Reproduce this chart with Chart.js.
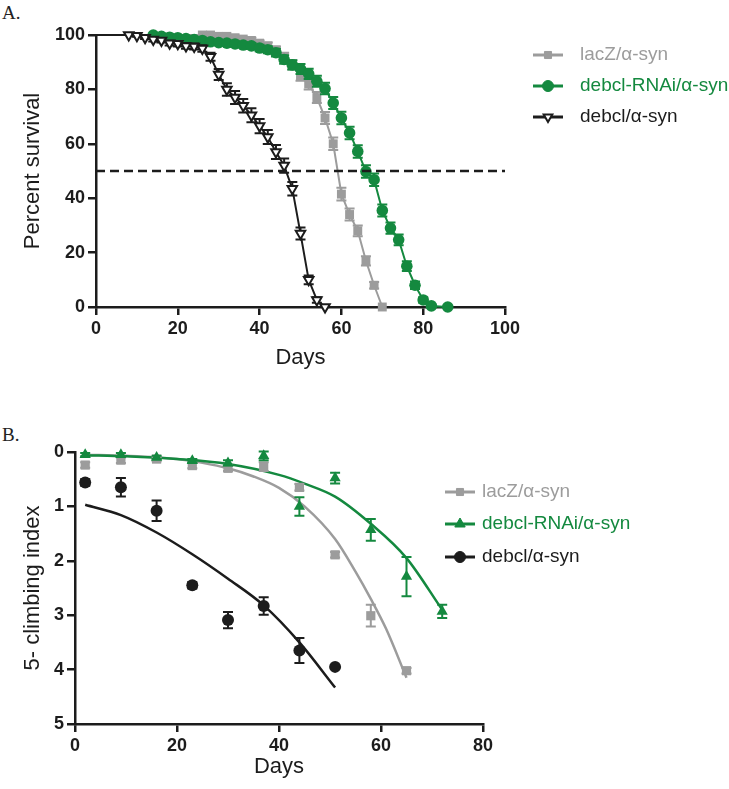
<!DOCTYPE html>
<html>
<head>
<meta charset="utf-8">
<script src="https://cdn.jsdelivr.net/npm/chart.js@4.4.1/dist/chart.umd.min.js"></script>
<style>
  html, body { margin: 0; padding: 0; background: #fff; }
  #page { position: relative; width: 729px; height: 789px; overflow: hidden; }
  .panel { position: absolute; left: 0; width: 729px; }
  .tag { position: absolute; left: 2px; font: 19px 'Liberation Serif', 'Times New Roman', serif; color: #222; }
</style>
</head>
<body>
<div id="page">
  <div class="tag" style="top:2px">A.</div>
  <div class="panel" style="top:0;height:380px"><canvas id="chartA" width="729" height="380"></canvas></div>
  <div class="tag" style="top:424px">B.</div>
  <div class="panel" style="top:400px;height:389px"><canvas id="chartB" width="729" height="389"></canvas></div>
</div>
<script>
// ---- panel A: survival curves (percent alive vs days) ----
const lacZDays = [0, 26, 28, 30, 32, 34, 36, 38, 40, 42, 44, 46, 48, 50, 52, 54, 56, 58, 60, 62, 64, 66, 68, 70];
const lacZSurv = [100, 100, 100, 99.5, 99.5, 99, 98.5, 98, 97, 96, 94.5, 92, 89, 85, 82, 77, 69.5, 60, 41.5, 34, 28, 17, 8, 0];
const lacZErr  = [0, 0, 0, 0.5, 0.5, 0.7, 0.8, 1, 1, 1.2, 1.3, 1.5, 1.7, 1.8, 2, 2, 2.2, 2.3, 2.3, 2.2, 2, 1.7, 1.2, 0];

const rnaiDays = [0, 14, 16, 18, 20, 22, 24, 26, 28, 30, 32, 34, 36, 38, 40, 42, 44, 46, 48, 50, 52, 54, 56, 58, 60, 62, 64, 66, 68, 70, 72, 74, 76, 78, 80, 82, 86];
const rnaiSurv = [100, 100, 99.5, 99.2, 99, 98.7, 98.3, 98, 97.5, 97.2, 97, 96.7, 96.3, 96, 95.2, 94.6, 93.5, 91, 89, 87.5, 85.7, 83, 80.3, 75, 69.5, 64, 57.2, 49.8, 46.8, 35.5, 29, 24.7, 15, 8, 2.6, 0.4, 0];
const rnaiErr  = [0, 0, 0.4, 0.5, 0.6, 0.7, 0.7, 0.8, 0.8, 0.9, 0.9, 1, 1, 1.1, 1.2, 1.3, 1.4, 1.6, 1.7, 1.8, 1.9, 2, 2.1, 2.2, 2.3, 2.3, 2.3, 2.3, 2.3, 2.2, 2.1, 2, 1.8, 1.4, 1, 0.5, 0];

const debclDays = [0, 8, 10, 12, 14, 16, 18, 20, 22, 24, 26, 28, 30, 32, 34, 36, 38, 40, 42, 44, 46, 48, 50, 52, 54, 56];
const debclSurv = [100, 100, 99.7, 99, 98.3, 98, 97, 96.8, 96, 95.8, 95, 92, 85.5, 80, 77, 74, 70.5, 66.5, 62.5, 57, 52, 43.5, 27, 10, 2.6, 0];
const debclErr  = [0, 0, 0.3, 0.5, 0.7, 0.8, 0.9, 1, 1.1, 1.1, 1.2, 1.5, 2, 2.3, 2.4, 2.5, 2.6, 2.6, 2.6, 2.6, 2.6, 2.5, 2.2, 1.6, 1, 0];

const medianDays = [0, 100];
const medianLevel = [50, 50];

// ---- panel B: climbing index vs days ----
const climbDays = [2, 9, 16, 23, 30, 37, 44, 51, 58, 65, 72];
const lacZClimb    = [0.24, 0.15, 0.13, 0.25, 0.3, 0.27, 0.65, 1.89, 3.01, 4.02];
const lacZClimbErr = [0.05, 0.05, 0.04, 0.05, 0.05, 0.08, 0.06, 0.05, 0.2, 0.05];
const rnaiClimb    = [0.05, 0.05, 0.1, 0.16, 0.2, 0.07, 1.0, 0.48, 1.43, 2.29, 2.93];
const rnaiClimbErr = [0.03, 0.03, 0.03, 0.03, 0.05, 0.08, 0.17, 0.1, 0.2, 0.36, 0.12];
const debclClimb    = [0.56, 0.65, 1.08, 2.45, 3.09, 2.83, 3.65, 3.95];
const debclClimbErr = [0.06, 0.17, 0.19, 0.06, 0.15, 0.16, 0.23, 0];

// fitted curves
const lacZFitDays = [2, 10, 20, 25, 30, 35, 40, 45, 51, 55, 58, 61, 65];
const lacZFit     = [0.05, 0.07, 0.13, 0.2, 0.3, 0.45, 0.66, 1.0, 1.6, 2.2, 2.7, 3.25, 4.15];
const rnaiFitDays = [2, 10, 20, 30, 40, 45, 51, 58, 65, 72];
const rnaiFit     = [0.06, 0.08, 0.13, 0.22, 0.42, 0.58, 0.82, 1.32, 1.95, 2.9];
const debclFitDays = [2, 9, 16, 23, 30, 37, 44, 51];
const debclFit     = [0.97, 1.16, 1.48, 1.88, 2.33, 2.82, 3.5, 4.33];

const labels = ['lacZ/\u03b1-syn', 'debcl-RNAi/\u03b1-syn', 'debcl/\u03b1-syn'];

const GRAY = '#9c9c9c';
const GREEN = '#14893f';
const BLACK = '#1c1c1c';
const FONT = "'Liberation Sans', Arial, Helvetica, sans-serif";

Chart.defaults.font.family = FONT;
Chart.defaults.color = BLACK;
Chart.defaults.animation = false;

const pts = (xs, ys) => xs.map((x, i) => ({ x: x, y: ys[i] }));

// vertical error bars with caps, drawn through the chart scales
const errorBars = {
  id: 'errorBars',
  beforeDatasetDraw(chart, args) {
    const ds = chart.data.datasets[args.index];
    if (!ds.errors) return;
    const { ctx, scales: { x, y } } = chart;
    ctx.save();
    ctx.strokeStyle = ds.borderColor;
    ctx.lineWidth = 2;
    ds.data.forEach((p, i) => {
      const e = ds.errors[i];
      if (!e) return;
      const px = x.getPixelForValue(p.x);
      const y1 = y.getPixelForValue(p.y - e);
      const y2 = y.getPixelForValue(p.y + e);
      ctx.beginPath();
      ctx.moveTo(px, y1); ctx.lineTo(px, y2);
      ctx.moveTo(px - 5, y1); ctx.lineTo(px + 5, y1);
      ctx.moveTo(px - 5, y2); ctx.lineTo(px + 5, y2);
      ctx.stroke();
    });
    ctx.restore();
  }
};

// legend on the right: short line + marker + coloured text
const sideLegend = {
  id: 'sideLegend',
  afterDraw(chart, args, opts) {
    const ctx = chart.ctx;
    const items = chart.data.datasets.filter(d => d.legend);
    ctx.save();
    items.forEach((d, i) => {
      const y = opts.ys[i];
      ctx.strokeStyle = d.borderColor;
      ctx.lineWidth = 3;
      ctx.beginPath();
      ctx.moveTo(opts.x, y);
      ctx.lineTo(opts.x + opts.len, y);
      ctx.stroke();
      ctx.fillStyle = d.legend.fill;
      ctx.lineWidth = d.legend.border || 1;
      Chart.helpers.drawPoint(ctx, { pointStyle: d.legend.style, rotation: d.legend.rotation || 0, radius: d.legend.radius, borderWidth: d.legend.border || 1 }, opts.x + opts.len / 2, y);
      ctx.fillStyle = d.borderColor;
      ctx.font = '19px ' + FONT;
      ctx.textBaseline = 'middle';
      ctx.fillText(d.label, opts.textX, y);
    });
    ctx.restore();
  }
};

function axis(min, max, step, title, fit, extra) {
  return Object.assign({
    type: 'linear', min: min, max: max,
    ticks: { stepSize: step, padding: 3, color: BLACK, font: { size: 18, weight: 'bold' } },
    grid: { drawOnChartArea: false, drawTicks: true, tickLength: 8, lineWidth: 2.5, color: BLACK },
    border: { display: true, width: 2.5, color: BLACK },
    title: { display: true, text: title, color: BLACK, font: { size: 22 }, padding: { top: 20, bottom: 9 } },
    afterFit: fit
  }, extra || {});
}

const noMarkerAtStart = r => ctx => (ctx.dataIndex === 0 ? 0 : r);

// lower "order" is drawn on top: dashes, then debcl, then RNAi, then lacZ
new Chart(document.getElementById('chartA'), {
  type: 'line',
  data: {
    datasets: [
      {
        label: labels[0], data: pts(lacZDays, lacZSurv), errors: lacZErr, order: 4,
        borderColor: GRAY, backgroundColor: GRAY, borderWidth: 2,
        pointStyle: 'rect', pointRadius: noMarkerAtStart(6.3), pointBackgroundColor: GRAY, pointBorderWidth: 0,
        legend: { style: 'rect', radius: 5, fill: GRAY }, clip: false
      },
      {
        label: labels[1], data: pts(rnaiDays, rnaiSurv), errors: rnaiErr, order: 3,
        borderColor: GREEN, backgroundColor: GREEN, borderWidth: 2,
        pointStyle: 'circle', pointRadius: noMarkerAtStart(5.8), pointBackgroundColor: GREEN, pointBorderWidth: 0,
        legend: { style: 'circle', radius: 5.5, fill: GREEN }, clip: false
      },
      {
        label: labels[2], data: pts(debclDays, debclSurv), errors: debclErr, order: 2,
        borderColor: BLACK, backgroundColor: '#fff', borderWidth: 2,
        pointStyle: 'triangle', pointRotation: 180, pointRadius: noMarkerAtStart(5.5),
        pointBackgroundColor: '#fff', pointBorderColor: BLACK, pointBorderWidth: 2,
        legend: { style: 'triangle', rotation: 180, radius: 5, fill: '#fff', border: 2 }, clip: false
      },
      {
        label: '', data: pts(medianDays, medianLevel), order: 1, borderColor: BLACK, borderWidth: 2.5,
        borderDash: [9, 5], pointRadius: 0, clip: false
      }
    ]
  },
  options: {
    responsive: false,
    events: [],
    layout: { padding: { left: 0, top: 35, right: 224, bottom: 0 } },
    scales: {
      x: axis(0, 100, 20, 'Days', s => { s.height = 73; }),
      y: axis(0, 100, 20, 'Percent survival', s => { s.width = 96; })
    },
    plugins: {
      legend: { display: false },
      tooltip: { enabled: false },
      sideLegend: { x: 533, len: 30, textX: 580, ys: [55, 86, 117] }
    }
  },
  plugins: [errorBars, sideLegend]
});

new Chart(document.getElementById('chartB'), {
  type: 'scatter',
  data: {
    datasets: [
      {
        label: labels[0], data: pts(climbDays, lacZClimb), errors: lacZClimbErr, order: 3,
        borderColor: GRAY, pointStyle: 'rect', pointRadius: 6.5, pointBackgroundColor: GRAY, pointBorderWidth: 0,
        legend: { style: 'rect', radius: 5, fill: GRAY }, clip: false
      },
      {
        label: labels[1], data: pts(climbDays, rnaiClimb), errors: rnaiClimbErr, order: 2,
        borderColor: GREEN, pointStyle: 'triangle', pointRadius: 6.5, pointBackgroundColor: GREEN, pointBorderWidth: 0,
        legend: { style: 'triangle', radius: 6, fill: GREEN }, clip: false
      },
      {
        label: labels[2], data: pts(climbDays, debclClimb), errors: debclClimbErr, order: 1,
        borderColor: BLACK, pointStyle: 'circle', pointRadius: 6, pointBackgroundColor: BLACK, pointBorderWidth: 0,
        legend: { style: 'circle', radius: 5.5, fill: BLACK }, clip: false
      },
      { label: '', data: pts(lacZFitDays, lacZFit), order: 6, showLine: true, borderColor: GRAY, borderWidth: 2.5, pointRadius: 0, cubicInterpolationMode: 'monotone', clip: false },
      { label: '', data: pts(rnaiFitDays, rnaiFit), order: 5, showLine: true, borderColor: GREEN, borderWidth: 2.5, pointRadius: 0, cubicInterpolationMode: 'monotone', clip: false },
      { label: '', data: pts(debclFitDays, debclFit), order: 4, showLine: true, borderColor: BLACK, borderWidth: 2.5, pointRadius: 0, cubicInterpolationMode: 'monotone', clip: false }
    ]
  },
  options: {
    responsive: false,
    events: [],
    layout: { padding: { left: 0, top: 52, right: 246, bottom: 0 } },
    scales: {
      x: axis(0, 80, 20, 'Days', s => { s.height = 65; }, {}),
      y: axis(0, 5, 1, '5- climbing index', s => { s.width = 75; }, { reverse: true })
    },
    plugins: {
      legend: { display: false },
      tooltip: { enabled: false },
      sideLegend: { x: 445, len: 30, textX: 482, ys: [92, 124, 157] }
    }
  },
  plugins: [errorBars, sideLegend]
});
</script>
</body>
</html>
